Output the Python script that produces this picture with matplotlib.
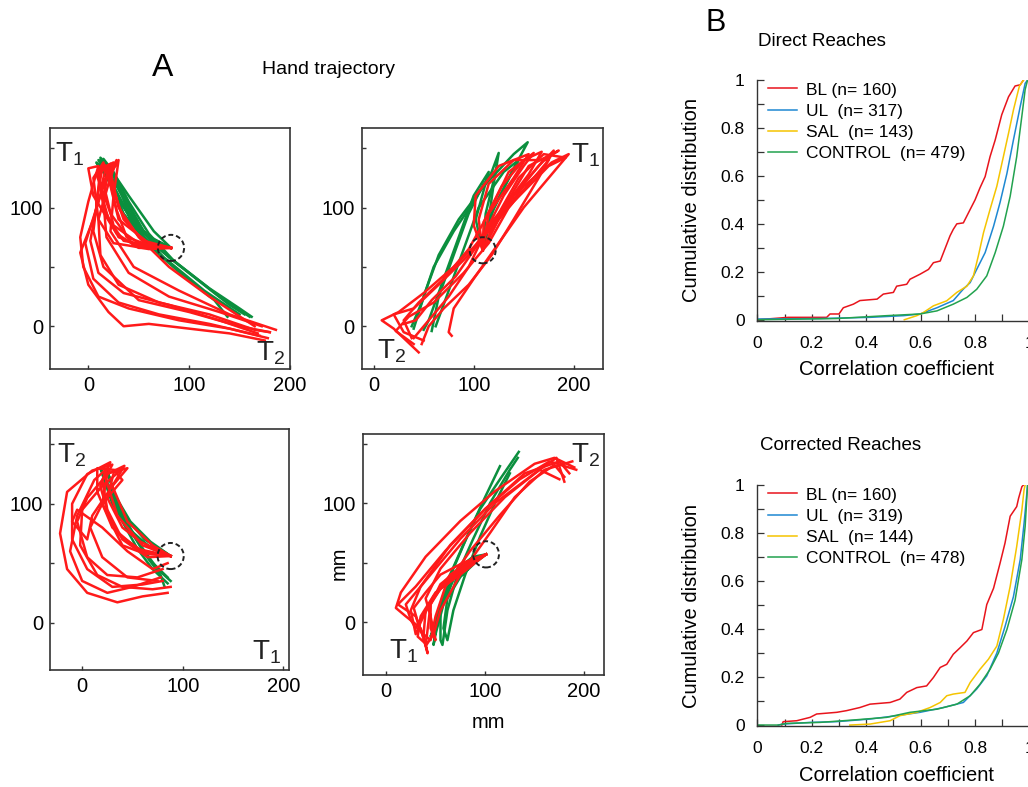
import numpy as np
import matplotlib
matplotlib.use("Agg")
import matplotlib.pyplot as plt
from matplotlib.patches import Ellipse

plt.rcParams['font.family'] = ['Liberation Sans', 'DejaVu Sans']
plt.rcParams['mathtext.fontset'] = 'custom'
plt.rcParams['mathtext.rm'] = 'Liberation Sans'

RED = '#ff1a1a'
GREEN = '#0b8f3e'

# ---- hand trajectories (mm) ----
# panel 1: top-left
P1_RED = [
    [(82,66),(60,68),(35,72),(20,90),(12,115),(18,135),(25,138),(15,120),(5,90),(-8,62),(0,35),(20,12),(35,0),(60,2),(100,-2),(140,-6),(175,-12)],
    [(82,66),(55,67),(30,75),(15,100),(10,130),(22,137),(12,110),(-3,70),(5,40),(30,20),(70,10),(120,2),(170,-8)],
    [(82,66),(50,70),(25,85),(15,120),(28,140),(20,120),(10,90),(12,60),(30,35),(70,20),(120,10),(165,-3),(180,-5)],
    [(82,66),(45,68),(22,95),(8,128),(20,135),(15,105),(18,75),(40,45),(80,25),(130,12),(172,0)],
    [(82,66),(60,70),(30,90),(20,125),(30,140),(25,110),(22,80),(45,50),(90,30),(140,10),(186,-3)],
    [(82,66),(50,66),(28,78),(5,110),(0,133),(10,135),(0,105),(-8,75),(-5,50),(10,25),(40,15),(90,5),(140,-2),(178,-10)],
    [(82,66),(55,72),(35,90),(25,115),(15,137),(22,130),(30,100),(50,75),(80,50),(120,25),(165,0)],
    [(82,66),(60,65),(40,68),(25,70),(10,90),(5,125),(15,138),(10,115),(5,80),(15,50),(50,22),(100,12),(150,0),(180,-5)],
    [(82,66),(58,69),(38,75),(28,98),(20,128),(12,134),(8,100),(2,72),(10,45),(35,28),(80,18),(130,5),(168,-6)],
]
P1_GREEN = [
    [(82,66),(60,75),(40,95),(20,125),(10,140),(15,138),(30,115),(50,85),(70,65),(100,45),(130,25),(160,8)],
    [(82,66),(55,78),(35,100),(15,130),(12,142),(20,135),(35,110),(55,80),(80,58),(110,38),(140,18),(155,10)],
    [(82,66),(62,72),(42,90),(25,118),(8,138),(18,128),(32,105),(48,82),(68,62),(95,42),(125,22),(138,8)],
    [(82,66),(58,70),(35,95),(22,122),(15,141),(25,130),(40,105),(60,78),(85,55),(120,32),(150,15),(162,8)],
    [(82,66),(65,80),(40,110),(20,135),(25,128),(38,100),(52,78),(75,58),(115,30),(150,10)],
]
# panel 2: top-right
P2_RED = [
    [(109,64),(125,95),(145,125),(170,145),(192,142),(175,135),(140,105),(110,75),(80,50),(50,28),(25,12),(8,5),(20,-2),(45,-22)],
    [(109,64),(130,100),(155,135),(185,148),(170,140),(145,115),(120,90),(95,60),(65,35),(40,15),(20,10),(30,-5),(50,-12)],
    [(109,64),(115,95),(135,130),(160,146),(150,135),(130,110),(112,80),(95,50),(75,25),(55,5),(40,-10)],
    [(109,64),(105,90),(115,120),(140,140),(175,140),(160,125),(135,100),(115,70),(90,45),(60,20),(35,8),(22,-4),(40,-15)],
    [(109,64),(120,85),(150,118),(178,138),(195,145),(180,130),(150,100),(125,70),(100,40),(80,15),(75,-5),(78,-8)],
    [(109,64),(100,85),(102,110),(125,135),(155,145),(140,125),(115,95),(95,65),(70,40),(45,20),(30,5),(38,-10)],
    [(109,64),(125,90),(140,110),(165,135),(180,148),(165,125),(140,90),(118,60),(95,35),(70,15),(55,0),(48,-15)],
    [(109,64),(110,88),(128,118),(150,140),(168,147),(155,128),(128,98),(105,70),(82,42),(58,22),(42,5),(30,2)],
]
P2_GREEN = [
    [(109,64),(115,90),(120,120),(125,146),(118,130),(100,105),(80,80),(60,50),(48,20),(38,0)],
    [(109,64),(118,95),(135,125),(154,155),(140,145),(110,118),(85,90),(65,60),(52,30),(40,-2)],
    [(109,64),(112,95),(122,130),(110,120),(95,95),(80,60),(65,25),(58,-4)],
    [(109,64),(120,100),(145,140),(130,130),(105,100),(90,65),(75,30),(62,0)],
    [(109,64),(102,90),(115,130),(100,110),(85,75),(70,40),(55,5),(50,-3)],
]
# panel 3: bottom-left
P3_RED = [
    [(88,56),(60,60),(35,75),(20,100),(25,125),(30,133),(10,128),(-15,110),(-22,75),(-15,45),(5,25),(35,17),(60,22),(85,25)],
    [(88,56),(65,55),(40,70),(25,95),(20,120),(28,135),(5,125),(-10,100),(-10,70),(5,45),(30,30),(60,32),(80,35)],
    [(88,56),(70,65),(45,85),(30,115),(42,132),(25,125),(5,105),(-5,85),(5,55),(25,40),(55,38),(80,45)],
    [(88,56),(55,62),(30,80),(15,110),(15,130),(38,128),(20,115),(0,95),(-2,65),(15,40),(40,30),(70,28),(88,30)],
    [(88,56),(60,65),(35,90),(22,125),(45,130),(30,115),(10,90),(5,70),(-10,85),(-5,95),(20,80),(45,60),(70,45),(85,50)],
    [(88,56),(62,58),(40,65),(28,85),(18,115),(25,130),(12,120),(-5,90),(-12,60),(0,35),(25,25),(50,30),(78,38)],
    [(88,56),(58,68),(40,80),(25,105),(32,128),(40,120),(20,100),(8,80),(20,55),(45,38),(75,35)],
]
P3_GREEN = [
    [(88,56),(65,65),(45,80),(30,100),(20,125),(30,110),(40,85),(55,62),(70,45),(85,33)],
    [(88,56),(62,70),(40,92),(25,115),(18,130),(28,112),(42,88),(58,65),(75,45),(88,35)],
    [(88,56),(70,62),(50,75),(35,95),(22,122),(32,105),(48,78),(62,58),(78,40),(82,30)],
    [(88,56),(68,68),(48,85),(32,108),(25,128),(35,100),(52,72),(68,52),(85,38)],
]
# panel 4: bottom-right
P4_RED = [
    [(101,57),(80,45),(55,30),(40,10),(38,-10),(42,-26),(35,-5),(20,5),(10,12),(15,25),(40,55),(75,85),(110,110),(150,133),(170,138),(190,130)],
    [(101,57),(75,40),(50,25),(35,5),(32,-12),(40,-18),(30,5),(12,15),(30,30),(60,60),(100,95),(140,125),(175,135),(185,125)],
    [(101,57),(82,48),(60,35),(45,15),(45,-5),(50,-15),(45,5),(40,20),(55,45),(85,75),(120,105),(155,128),(175,120)],
    [(101,57),(85,52),(65,40),(48,22),(35,0),(30,-10),(25,10),(35,30),(65,65),(100,95),(135,120),(165,135),(192,128)],
    [(101,57),(78,50),(55,40),(40,25),(28,12),(35,-8),(45,-15),(50,5),(60,30),(85,60),(115,90),(145,118),(170,132),(180,122)],
    [(101,57),(88,50),(70,42),(55,32),(45,15),(40,-20),(48,-10),(55,10),(75,40),(105,75),(130,105),(160,128),(188,135)],
    [(101,57),(80,47),(55,28),(38,8),(30,-5),(25,2),(20,15),(45,40),(75,70),(110,100),(150,125),(172,138),(180,118)],
]
P4_GREEN = [
    [(101,57),(85,52),(70,40),(58,15),(50,-10),(48,-19),(52,5),(62,35),(78,65),(95,95),(115,120),(134,143)],
    [(101,57),(80,50),(65,35),(55,10),(55,-15),(57,-19),(62,10),(72,40),(88,70),(105,100),(125,128),(133,138)],
    [(101,57),(88,55),(72,45),(60,25),(52,0),(45,-12),(55,15),(68,45),(85,78),(100,105),(115,131)],
    [(101,57),(90,50),(75,38),(62,20),(58,-5),(62,-15),(68,10),(80,40),(95,72),(110,100),(125,125)],
]
CENTERS = [(82, 66), (109, 64), (88, 56), (101, 57)]

# ---- cumulative distributions (x = correlation coefficient, y = fraction) ----
DIRECT_LABELS = ['BL (n= 160)', 'UL  (n= 317)', 'SAL  (n= 143)', 'CONTROL  (n= 479)']
DIRECT_BL_X = [0.0, 0.114, 0.255, 0.267, 0.30, 0.316, 0.353, 0.377, 0.44, 0.463, 0.50, 0.512, 0.549, 0.561, 0.598, 0.629, 0.647, 0.672, 0.684, 0.708, 0.72, 0.733, 0.757, 0.782, 0.80, 0.818, 0.837, 0.855, 0.874, 0.898, 0.923, 0.947, 0.966, 0.978]
DIRECT_BL_Y = [0.0, 0.01, 0.01, 0.024, 0.024, 0.05, 0.065, 0.08, 0.086, 0.107, 0.114, 0.14, 0.148, 0.169, 0.19, 0.21, 0.238, 0.245, 0.28, 0.35, 0.377, 0.40, 0.404, 0.46, 0.50, 0.55, 0.597, 0.68, 0.75, 0.855, 0.93, 0.975, 0.98, 1.0]
DIRECT_UL_X = [0.0, 0.23, 0.414, 0.537, 0.598, 0.66, 0.72, 0.757, 0.782, 0.806, 0.837, 0.868, 0.892, 0.917, 0.941, 0.966, 0.984, 0.993]
DIRECT_UL_Y = [0.003, 0.005, 0.01, 0.017, 0.024, 0.05, 0.08, 0.128, 0.155, 0.21, 0.28, 0.39, 0.49, 0.61, 0.75, 0.89, 0.986, 1.0]
DIRECT_SAL_X = [0.54, 0.586, 0.61, 0.647, 0.696, 0.733, 0.77, 0.794, 0.812, 0.831, 0.855, 0.88, 0.904, 0.923, 0.941, 0.953, 0.963, 0.978]
DIRECT_SAL_Y = [0.0, 0.017, 0.03, 0.058, 0.079, 0.114, 0.14, 0.183, 0.266, 0.363, 0.46, 0.557, 0.68, 0.778, 0.875, 0.93, 0.975, 1.0]
DIRECT_CON_X = [0.0, 0.29, 0.475, 0.598, 0.66, 0.72, 0.77, 0.806, 0.843, 0.874, 0.904, 0.929, 0.953, 0.972, 0.984, 0.993]
DIRECT_CON_Y = [0.0, 0.005, 0.017, 0.024, 0.037, 0.065, 0.093, 0.127, 0.183, 0.28, 0.39, 0.515, 0.68, 0.85, 0.96, 1.0]

CORR_LABELS = ['BL (n= 160)', 'UL  (n= 319)', 'SAL  (n= 144)', 'CONTROL  (n= 478)']
CORR_BL_X = [0.09, 0.095, 0.145, 0.194, 0.218, 0.292, 0.328, 0.377, 0.414, 0.488, 0.524, 0.549, 0.586, 0.622, 0.647, 0.672, 0.696, 0.72, 0.745, 0.77, 0.794, 0.825, 0.843, 0.868, 0.892, 0.91, 0.929, 0.953, 0.96, 0.972, 0.978]
CORR_BL_Y = [0.0, 0.014, 0.018, 0.032, 0.046, 0.053, 0.06, 0.073, 0.087, 0.094, 0.108, 0.136, 0.156, 0.163, 0.198, 0.24, 0.253, 0.295, 0.322, 0.35, 0.385, 0.398, 0.502, 0.57, 0.675, 0.758, 0.87, 0.91, 0.945, 0.993, 1.0]
CORR_UL_X = [0.077, 0.096, 0.194, 0.29, 0.414, 0.512, 0.598, 0.684, 0.757, 0.806, 0.843, 0.88, 0.91, 0.941, 0.966, 0.98, 0.993]
CORR_UL_Y = [0.0, 0.004, 0.011, 0.014, 0.025, 0.039, 0.053, 0.073, 0.094, 0.15, 0.205, 0.30, 0.41, 0.535, 0.69, 0.84, 1.0]
CORR_SAL_X = [0.34, 0.414, 0.488, 0.524, 0.586, 0.635, 0.672, 0.696, 0.72, 0.763, 0.782, 0.818, 0.849, 0.88, 0.904, 0.929, 0.953, 0.972, 0.98, 0.984]
CORR_SAL_Y = [0.0, 0.004, 0.018, 0.039, 0.053, 0.073, 0.094, 0.122, 0.129, 0.136, 0.177, 0.232, 0.274, 0.329, 0.44, 0.578, 0.744, 0.896, 0.98, 1.0]
CORR_CON_X = [0.0, 0.077, 0.108, 0.23, 0.353, 0.475, 0.561, 0.66, 0.733, 0.782, 0.818, 0.855, 0.886, 0.917, 0.947, 0.972, 0.984, 0.993]
CORR_CON_Y = [0.0, 0.0, 0.007, 0.011, 0.021, 0.032, 0.053, 0.066, 0.087, 0.122, 0.17, 0.232, 0.30, 0.398, 0.52, 0.69, 0.827, 1.0]

CDF_COLORS = ['#e8141c', '#1e88d2', '#f5c400', '#22a24e']

W, H = 1028, 787
fig = plt.figure(figsize=(W / 100, H / 100), dpi=100)


def px_axes(left, top, right, bottom):
    return fig.add_axes([left / W, 1 - bottom / H, (right - left) / W, (bottom - top) / H])


def traj_panel(ax, reds, greens, center, xlim, ylim, labels):
    for tr in greens:
        a = np.array(tr)
        ax.plot(a[:, 0], a[:, 1], color=GREEN, lw=1.8, solid_joinstyle='round')
    for tr in reds:
        a = np.array(tr)
        ax.plot(a[:, 0], a[:, 1], color=RED, lw=1.8, solid_joinstyle='round')
    ax.add_patch(Ellipse(center, 26, 22, fill=False, ls=(0, (2.5, 1.5)), lw=1.4, color='#222222', zorder=5))
    ax.set_xlim(*xlim)
    ax.set_ylim(*ylim)
    ax.set_xticks([0, 100, 200])
    ax.set_yticks([0, 100])
    ax.set_yticks([50, 150], minor=True)
    ax.tick_params(which='both', direction='in', length=3, width=1, labelsize=14.5,
                   color='#333333', pad=5)
    for s in ax.spines.values():
        s.set_linewidth(1.2)
        s.set_color('#333333')
    for txt, sub, x, y in labels:
        ax.text(x, y, 'T$_\\mathrm{%s}$' % sub, fontsize=20, ha='left', va='baseline', color='#222222')


ax1 = px_axes(50, 128, 290, 369)
traj_panel(ax1, P1_RED, P1_GREEN, CENTERS[0], (-38, 200), (-36, 167),
           [('T', '1', -33, 139), ('T', '2', 166, -29)])
ax2 = px_axes(361.7, 128, 602.7, 369)
traj_panel(ax2, P2_RED, P2_GREEN, CENTERS[1], (-12, 229), (-36, 167),
           [('T', '1', 197, 138), ('T', '2', 3, -27)])
ax3 = px_axes(50, 429, 289.3, 670)
traj_panel(ax3, P3_RED, P3_GREEN, CENTERS[2], (-32, 206), (-40, 163),
           [('T', '2', -25, 135), ('T', '1', 169, -31)])
ax4 = px_axes(362.7, 434, 604, 675.3)
traj_panel(ax4, P4_RED, P4_GREEN, CENTERS[3], (-23.5, 220), (-44.5, 158),
           [('T', '2', 186.5, 134), ('T', '1', 3, -30)])
ax4.set_xlabel('mm', fontsize=14.5)
ax4.set_ylabel('mm', fontsize=14.5)
ax4.xaxis.set_label_coords(0.52, -0.155)
ax4.yaxis.set_label_coords(-0.06, 0.465)


def cdf_panel(ax, series, labels):
    for (x, y), c, lab in zip(series, CDF_COLORS, labels):
        ax.plot(x, y, color=c, lw=1.1, label=lab)
    ax.set_xlim(0, 1.0)
    ax.set_ylim(-0.004, 1.0)
    for s in ['top', 'right']:
        ax.spines[s].set_visible(False)
    for s in ['left', 'bottom']:
        ax.spines[s].set_linewidth(1.0)
        ax.spines[s].set_color('#333333')
    ax.set_xticks([0, 0.2, 0.4, 0.6, 0.8, 1.0])
    ax.set_xticklabels(['0', '0.2', '0.4', '0.6', '0.8', '1'])
    ax.set_xticks(np.arange(0.1, 1.0, 0.2), minor=True)
    ax.set_yticks([0, 0.2, 0.4, 0.6, 0.8, 1.0])
    ax.set_yticklabels(['0', '0.2', '0.4', '0.6', '0.8', '1'])
    ax.set_yticks(np.arange(0.1, 1.0, 0.2), minor=True)
    ax.tick_params(which='both', direction='in', length=5, width=0.9, labelsize=12.5, color='#333333')
    ax.tick_params(axis='x', pad=11)
    ax.tick_params(axis='y', pad=9)
    ax.set_xlabel('Correlation coefficient', fontsize=14.5)
    ax.set_ylabel('Cumulative distribution', fontsize=14.5)
    ax.yaxis.set_label_coords(-0.205, 0.5)
    ax.xaxis.set_label_coords(0.51, -0.165)
    ax.legend(loc='upper left', bbox_to_anchor=(0.039, 0.99), frameon=False, fontsize=12.5,
              handlelength=1.67, handletextpad=0.5, labelspacing=0.35, borderaxespad=0, borderpad=0)


ax5 = px_axes(757.3, 80, 1029.5, 320.7)
cdf_panel(ax5, [(DIRECT_BL_X, DIRECT_BL_Y), (DIRECT_UL_X, DIRECT_UL_Y),
                (DIRECT_SAL_X, DIRECT_SAL_Y), (DIRECT_CON_X, DIRECT_CON_Y)], DIRECT_LABELS)
ax6 = px_axes(757.3, 485, 1029.5, 726)
cdf_panel(ax6, [(CORR_BL_X, CORR_BL_Y), (CORR_UL_X, CORR_UL_Y),
                (CORR_SAL_X, CORR_SAL_Y), (CORR_CON_X, CORR_CON_Y)], CORR_LABELS)

fig.text(163 / W, 1 - 68 / H, 'A', fontsize=23, ha='center', va='center')
fig.text(262 / W, 1 - 70 / H, 'Hand trajectory', fontsize=14, ha='left', va='center')
fig.text(706 / W, 1 - 23 / H, 'B', fontsize=22, ha='left', va='center')
fig.text(758 / W, 1 - 42 / H, 'Direct Reaches', fontsize=13.5, ha='left', va='center')
fig.text(760 / W, 1 - 445 / H, 'Corrected Reaches', fontsize=13.5, ha='left', va='center')

fig.savefig('out.png', dpi=100)
